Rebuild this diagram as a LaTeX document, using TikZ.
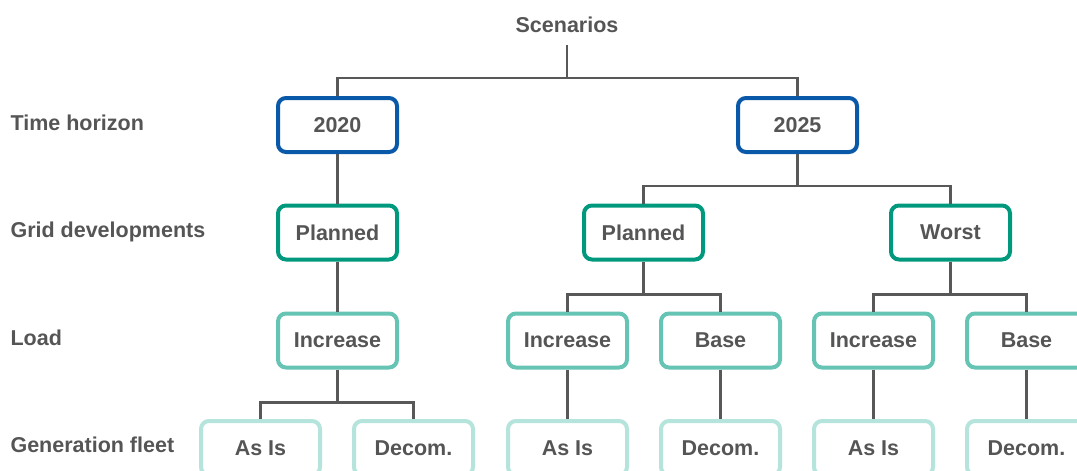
\documentclass[tikz,border=0pt]{standalone}
\usepackage{fontspec}
\setmainfont{Liberation Sans}
\begin{document}
\definecolor{txtgray}{HTML}{555555}
\definecolor{linegray}{HTML}{585858}
\definecolor{lvlone}{HTML}{0A58A8}
\definecolor{lvltwo}{HTML}{00997E}
\definecolor{lvlthree}{HTML}{66C4B4}
\definecolor{lvlfour}{HTML}{B4E4DC}
\begin{tikzpicture}[x=1pt,y=-1pt,
  lbl/.style={font=\fontsize{21.5}{24}\selectfont\bfseries, text=txtgray},
  box/.style={lbl, draw, line width=4pt, rounded corners=8pt, fill=white,
    minimum width=119pt, minimum height=54pt, inner sep=0pt},
  boxA/.style={box, draw=lvlone},
  boxB/.style={box, draw=lvltwo},
  boxC/.style={box, draw=lvlthree},
  boxD/.style={box, draw=lvlfour},
  link/.style={draw=linegray, line width=2.2pt},
  rowlbl/.style={lbl, anchor=west}]
\clip (0,0) rectangle (1077,471);
\fill[white] (0,0) rectangle (1077,471);

% row labels
\node[rowlbl] (lt) at (7,123) {Time horizon};
\node[rowlbl] (lg) at (7,232) {Grid developments};
\node[rowlbl] (ll) at (7,338) {Load};
\node[rowlbl] (lf) at (7,445) {Generation fleet};

% root
\node[lbl] (root) at (567,25) {Scenarios};

% time horizon
\node[boxA] (t20) at (337.5,125) {2020};
\node[boxA] (t25) at (797.5,125) {2025};

% grid developments
\node[boxB] (g1) at (337.5,232.5) {Planned};
\node[boxB] (g2) at (643.5,232.5) {Planned};
\node[boxB] (g3) at (950.5,232.5) {Worst};

% load
\node[boxC] (l1) at (337.5,340.5) {Increase};
\node[boxC] (l2) at (567.5,340.5) {Increase};
\node[boxC] (l3) at (720.5,340.5) {Base};
\node[boxC] (l4) at (873.5,340.5) {Increase};
\node[boxC] (l5) at (1026.5,340.5) {Base};

% generation fleet
\node[boxD] (f1) at (260.5,448) {As Is};
\node[boxD] (f2) at (413.5,448) {Decom.};
\node[boxD] (f3) at (567.5,448) {As Is};
\node[boxD] (f4) at (720.5,448) {Decom.};
\node[boxD] (f5) at (873.5,448) {As Is};
\node[boxD] (f6) at (1026.5,448) {Decom.};

% connectors
\coordinate (rs) at (567,45);
\draw[link] (rs) -- ++(0,33) coordinate (rj);
\draw[link] (t20.north) |- (rj) -| (t25.north);
\draw[link] (t20.south) -- (g1.north);
\draw[link] (t25.south) -- ++(0,32) coordinate (tj);
\draw[link] (g2.north) |- (tj) -| (g3.north);
\draw[link] (g1.south) -- (l1.north);
\draw[link] (g2.south) -- ++(0,33) coordinate (gj2);
\draw[link] (l2.north) |- (gj2) -| (l3.north);
\draw[link] (g3.south) -- ++(0,33) coordinate (gj3);
\draw[link] (l4.north) |- (gj3) -| (l5.north);
\draw[link] (l1.south) -- ++(0,33) coordinate (lj1);
\draw[link] (f1.north) |- (lj1) -| (f2.north);
\draw[link] (l2.south) -- (f3.north);
\draw[link] (l3.south) -- (f4.north);
\draw[link] (l4.south) -- (f5.north);
\draw[link] (l5.south) -- (f6.north);
\end{tikzpicture}
\end{document}
